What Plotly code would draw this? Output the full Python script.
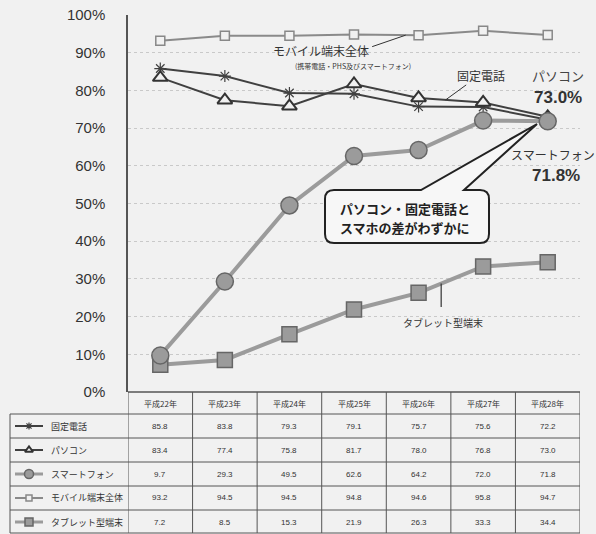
import plotly.graph_objects as go

W, H = 596, 534

years = ["平成22年", "平成23年", "平成24年", "平成25年", "平成26年", "平成27年", "平成28年"]
fixed_phone = [85.8, 83.8, 79.3, 79.1, 75.7, 75.6, 72.2]
pc = [83.4, 77.4, 75.8, 81.7, 78.0, 76.8, 73.0]
smartphone = [9.7, 29.3, 49.5, 62.6, 64.2, 72.0, 71.8]
mobile_all = [93.2, 94.5, 94.5, 94.8, 94.6, 95.8, 94.7]
tablet = [7.2, 8.5, 15.3, 21.9, 26.3, 33.3, 34.4]
y_ticks = [0, 10, 20, 30, 40, 50, 60, 70, 80, 90, 100]
y_tick_labels = ["0%", "10%", "20%", "30%", "40%", "50%", "60%", "70%", "80%", "90%", "100%"]

row_names = ["固定電話", "パソコン", "スマートフォン", "モバイル端末全体", "タブレット型端末"]
row_values = [fixed_phone, pc, smartphone, mobile_all, tablet]

JP = "Noto Sans CJK JP"
LAT = "Liberation Sans"
BG = "#f1f1f1"


def px(x):
    return x / W


def py(y):
    return 1 - y / H


styles = {
    "固定電話": dict(line=dict(color="#404040", width=2),
                  marker=dict(symbol="asterisk-open", size=10, color="#404040",
                              line=dict(color="#404040", width=1.2))),
    "パソコン": dict(line=dict(color="#404040", width=2),
                  marker=dict(symbol="triangle-up", size=13, color=BG, line=dict(color="#333333", width=2))),
    "スマートフォン": dict(line=dict(color="#9b9b9b", width=4),
                     marker=dict(symbol="circle", size=17, color="#9b9b9b", line=dict(color="#666666", width=1.5))),
    "モバイル端末全体": dict(line=dict(color="#8a8a8a", width=2),
                      marker=dict(symbol="square", size=9, color=BG, line=dict(color="#888888", width=1.5))),
    "タブレット型端末": dict(line=dict(color="#9b9b9b", width=4),
                      marker=dict(symbol="square", size=15, color="#9b9b9b", line=dict(color="#666666", width=1.5))),
}

fig = go.Figure()

draw_order = ["モバイル端末全体", "タブレット型端末", "固定電話", "パソコン", "スマートフォン"]
for name in draw_order:
    vals = row_values[row_names.index(name)]
    st = styles[name]
    fig.add_trace(go.Scatter(x=years, y=vals, mode="lines+markers", name=name,
                             line=st["line"], marker=st["marker"], showlegend=False,
                             xaxis="x", yaxis="y"))

# legend keys inside the table (overlay axes: x in px-like units, y in row index)
for i, name in enumerate(row_names):
    st = styles[name]
    mk = dict(st["marker"])
    mk["size"] = max(6, int(mk["size"] * 0.55))
    fig.add_trace(go.Scatter(x=[15, 29, 43], y=[i + 0.5] * 3, mode="lines",
                             line=dict(color=st["line"]["color"], width=min(st["line"]["width"], 3)),
                             showlegend=False, xaxis="x2", yaxis="y2", hoverinfo="skip"))
    fig.add_trace(go.Scatter(x=[29], y=[i + 0.5], mode="markers", marker=mk,
                             showlegend=False, xaxis="x2", yaxis="y2", hoverinfo="skip"))

x_left, x_right = 128, 580
y_top, y_zero = 15, 392

shapes = []
line_c = "#555555"
# table horizontal lines
for yy in [414, 438, 462, 486, 510, 533]:
    shapes.append(dict(type="line", xref="paper", yref="paper", x0=px(10), x1=px(x_right),
                       y0=py(yy), y1=py(yy), line=dict(color=line_c, width=1)))
shapes.append(dict(type="line", xref="paper", yref="paper", x0=px(x_left), x1=px(x_right),
                   y0=py(y_zero), y1=py(y_zero), line=dict(color=line_c, width=1.5)))
# left border
shapes.append(dict(type="line", xref="paper", yref="paper", x0=px(10), x1=px(10),
                   y0=py(414), y1=py(533), line=dict(color=line_c, width=1)))
# column borders
for k in range(len(years) + 1):
    shapes.append(dict(type="line", xref="x", yref="paper", x0=k - 0.5, x1=k - 0.5,
                       y0=py(y_zero), y1=py(533), line=dict(color=line_c, width=1)))

# callout box with tail
bx1, bx2, by1, by2, r = 325, 489, 190, 243, 9
t1, t2, tipx, tipy = 421, 464, 537, 124
pts = (f"M {px(bx1 + r)},{py(by1)} L {px(t1)},{py(by1)} L {px(tipx)},{py(tipy)} L {px(t2)},{py(by1)} "
       f"L {px(bx2 - r)},{py(by1)} Q {px(bx2)},{py(by1)} {px(bx2)},{py(by1 + r)} "
       f"L {px(bx2)},{py(by2 - r)} Q {px(bx2)},{py(by2)} {px(bx2 - r)},{py(by2)} "
       f"L {px(bx1 + r)},{py(by2)} Q {px(bx1)},{py(by2)} {px(bx1)},{py(by2 - r)} "
       f"L {px(bx1)},{py(by1 + r)} Q {px(bx1)},{py(by1)} {px(bx1 + r)},{py(by1)} Z")
shapes.append(dict(type="path", xref="paper", yref="paper", path=pts,
                   line=dict(color="#222222", width=2), fillcolor="#f7f7f7", layer="above"))


def label(x, y, text, size, family=JP, color="#333", xanchor="center", xref="paper", **kw):
    return dict(x=x, y=y, xref=xref, yref="paper", text=text, showarrow=False,
                xanchor=xanchor, yanchor="middle", font=dict(family=family, size=size, color=color), **kw)


ann = []
# header row year labels
for yr in years:
    ann.append(label(yr, py(403), yr, 8, xref="x"))
# table rows
for i, (name, vals) in enumerate(zip(row_names, row_values)):
    yc = py(414 + 24 * i + 12)
    ann.append(label(px(49), yc, name, 9, xanchor="left"))
    for yr, v in zip(years, vals):
        ann.append(label(yr, yc, f"{v:.1f}", 8, family=LAT, xref="x"))

# chart labels
ann += [
    label(px(321), py(50), "モバイル端末全体", 12),
    label(px(353), py(66), "(携帯電話・PHS及びスマートフォン)", 7),
    dict(x=3.8, y=94.65, xref="x", yref="y", text="", showarrow=True, arrowhead=0, arrowwidth=1,
         arrowcolor="#333", ax=-35, ay=12),
    label(px(481), py(75), "固定電話", 12),
    dict(x=4.42, y=77.5, xref="x", yref="y", text="", showarrow=True, arrowhead=0, arrowwidth=1,
         arrowcolor="#333", ax=22, ay=-16),
    label(px(558), py(75), "パソコン", 13, color="#444"),
    label(px(558), py(97), "<b>73.0%</b>", 17, family=LAT),
    label(px(553), py(155), "スマートフォン", 12),
    label(px(556), py(176), "<b>71.8%</b>", 17, family=LAT),
    label(px(338), py(209), "<b>パソコン・固定電話と</b>", 13, color="#222", xanchor="left"),
    label(px(338), py(227), "<b>スマホの差がわずかに</b>", 13, color="#222", xanchor="left"),
    label(px(443), py(322), "タブレット型端末", 10),
    dict(x=4.35, y=28.75, xref="x", yref="y", text="", showarrow=True, arrowhead=0, arrowwidth=1.2,
         arrowcolor="#333", ax=0, ay=25),
]

fig.update_layout(
    width=W, height=H, margin=dict(l=0, r=0, t=0, b=0, pad=0, autoexpand=False),
    paper_bgcolor=BG, plot_bgcolor=BG,
    showlegend=False,
    xaxis=dict(domain=[px(x_left), px(x_right)], range=[-0.5, 6.5], type="category",
               categoryorder="array", categoryarray=years, automargin=False,
               showticklabels=False, showgrid=False, zeroline=False, ticks=""),
    yaxis=dict(domain=[py(y_zero), py(y_top)], range=[0, 100], tickmode="array",
               tickvals=y_ticks, ticktext=y_tick_labels, automargin=False,
               tickfont=dict(family=LAT, size=15, color="#333"),
               showline=True, linecolor="#555", linewidth=1.5, ticks="", ticklabelstandoff=18,
               showgrid=True, gridcolor="#c9c9c9", griddash="dot", gridwidth=1, zeroline=False),
    xaxis2=dict(domain=[0, px(x_left)], range=[0, 128], anchor="y2", visible=False, automargin=False),
    yaxis2=dict(domain=[0, py(414)], range=[5, 0], anchor="x2", visible=False, automargin=False),
    shapes=shapes, annotations=ann,
)

fig.write_html("out.html", config={"displayModeBar": False},
               post_script="document.body.style.margin='0';")
